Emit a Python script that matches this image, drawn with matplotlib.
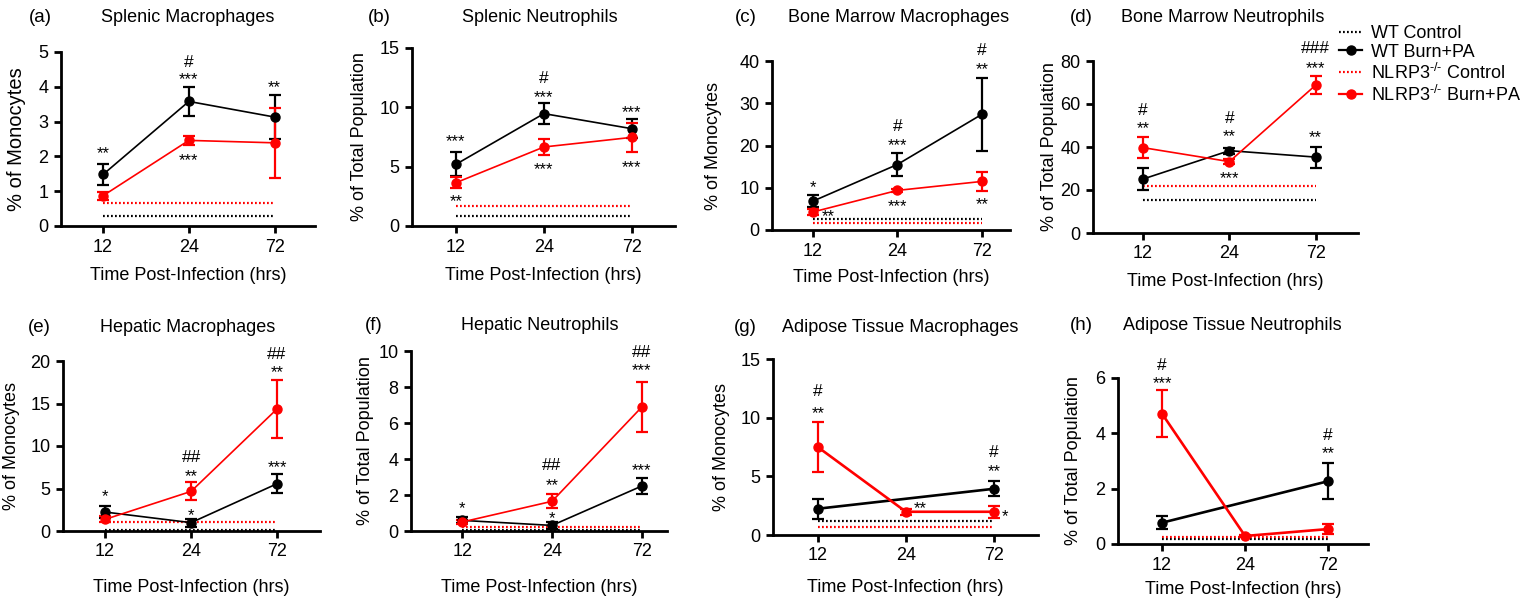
import numpy as np
import matplotlib
matplotlib.use('Agg')
import matplotlib.pyplot as plt
from matplotlib.lines import Line2D

plt.rcParams['font.family'] = ['Liberation Sans', 'DejaVu Sans']
plt.rcParams['mathtext.fontset'] = 'custom'
plt.rcParams['mathtext.rm'] = 'Liberation Sans'
plt.rcParams['mathtext.it'] = 'Liberation Sans:italic'
plt.rcParams['mathtext.bf'] = 'Liberation Sans:bold'

FIG_W, FIG_H = 1524, 601

time_labels = ['12', '24', '72']

panel_letters = ['(a)', '(b)', '(c)', '(d)', '(e)', '(f)', '(g)', '(h)']
titles = ['Splenic Macrophages', 'Splenic Neutrophils', 'Bone Marrow Macrophages',
          'Bone Marrow Neutrophils', 'Hepatic Macrophages', 'Hepatic Neutrophils',
          'Adipose Tissue Macrophages', 'Adipose Tissue Neutrophils']
ylabels = ['% of Monocytes', '% of Total Population', '% of Monocytes',
           '% of Total Population', '% of Monocytes', '% of Total Population',
           '% of Monocytes', '% of Total Population']
xlabel = 'Time Post-Infection (hrs)'

series_names = ['WT Control', 'WT Burn+PA',
                r'NLRP3$^{\text{-/-}}$ Control', r'NLRP3$^{\text{-/-}}$ Burn+PA']

# ---- values (mean, SEM) ----
a_wt_mean = [1.48, 3.58, 3.13]; a_wt_sem = [0.31, 0.42, 0.63]
a_ko_mean = [0.87, 2.46, 2.39]; a_ko_sem = [0.11, 0.13, 1.00]
a_wt_ctrl = 0.30; a_ko_ctrl = 0.66

b_wt_mean = [5.20, 9.47, 8.20]; b_wt_sem = [1.00, 0.87, 0.78]
b_ko_mean = [3.65, 6.66, 7.47]; b_ko_sem = [0.45, 0.64, 1.22]
b_wt_ctrl = 0.81; b_ko_ctrl = 1.69

c_wt_mean = [6.8, 15.5, 27.4]; c_wt_sem = [1.4, 2.7, 8.6]
c_ko_mean = [4.25, 9.37, 11.5]; c_ko_sem = [0.7, 0.4, 2.2]
c_wt_ctrl = 2.6; c_ko_ctrl = 1.57

d_wt_mean = [25.1, 38.3, 35.3]; d_wt_sem = [5.0, 1.4, 4.9]
d_ko_mean = [39.7, 33.2, 68.8]; d_ko_sem = [4.8, 1.1, 4.2]
d_wt_ctrl = 15.2; d_ko_ctrl = 22.0

e_wt_mean = [2.23, 0.98, 5.56]; e_wt_sem = [0.72, 0.47, 1.10]
e_ko_mean = [1.37, 4.66, 14.36]; e_ko_sem = [0.34, 1.07, 3.37]
e_wt_ctrl = 0.12; e_ko_ctrl = 1.02

f_wt_mean = [0.59, 0.31, 2.50]; f_wt_sem = [0.17, 0.18, 0.42]
f_ko_mean = [0.50, 1.65, 6.89]; f_ko_sem = [0.10, 0.39, 1.40]
f_wt_ctrl = 0.07; f_ko_ctrl = 0.22

g_wt_mean = [2.24, np.nan, 3.94]; g_wt_sem = [0.85, np.nan, 0.64]
g_ko_mean = [7.49, 1.98, 1.98]; g_ko_sem = [2.15, 0.24, 0.52]
g_wt_ctrl = 1.16; g_ko_ctrl = 0.65

h_wt_mean = [0.77, np.nan, 2.27]; h_wt_sem = [0.23, np.nan, 0.65]
h_ko_mean = [4.71, 0.29, 0.54]; h_ko_sem = [0.86, 0.03, 0.17]
h_wt_ctrl = 0.17; h_ko_ctrl = 0.24

y_maxes = [5, 15, 40, 80, 20, 10, 15, 6]
y_steps = [1, 5, 10, 20, 5, 2, 5, 2]

# significance marks: (time index, y, text)
a_marks = [(0, 2.21, '**'), (1, 4.75, '#'), (1, 4.35, '***'), (2, 4.11, '**'), (1, 2.02, '***')]
b_marks = [(0, 7.56, '***'), (0, 2.50, '**'), (1, 12.6, '#'), (1, 11.2, '***'), (1, 5.17, '***'),
           (2, 9.97, '***'), (2, 5.31, '***')]
c_marks = [(0, 11.3, '*'), (0.18, 4.25, '**'), (1, 24.8, '#'), (1, 21.1, '***'), (1, 6.7, '***'),
           (2, 42.8, '#'), (2, 39.2, '**'), (2, 7.1, '**')]
d_marks = [(0, 58.0, '#'), (0, 51.0, '**'), (1, 54.1, '#'), (1, 47.1, '**'), (1, 27.8, '***'),
           (2, 86.7, '###'), (2, 78.6, '***'), (2, 46.7, '**')]
e_marks = [(0, 4.6, '*'), (1, 8.85, '##'), (1, 6.97, '**'), (1, 2.39, '*'),
           (2, 21.0, '##'), (2, 19.2, '**'), (2, 8.06, '***')]
f_marks = [(0, 1.52, '*'), (1, 3.74, '##'), (1, 2.81, '**'), (1, 0.96, '*'),
           (2, 10.04, '##'), (2, 9.2, '***'), (2, 3.65, '***')]
g_marks = [(0, 12.36, '#'), (0, 10.75, '**'), (1.16, 2.67, '**'),
           (2, 7.2, '#'), (2, 5.84, '**'), (2.12, 1.98, '*')]
h_marks = [(0, 6.51, '#'), (0, 5.97, '***'), (2, 3.99, '#'), (2, 3.45, '**')]

panels = [
    (a_wt_mean, a_wt_sem, a_ko_mean, a_ko_sem, a_wt_ctrl, a_ko_ctrl, a_marks),
    (b_wt_mean, b_wt_sem, b_ko_mean, b_ko_sem, b_wt_ctrl, b_ko_ctrl, b_marks),
    (c_wt_mean, c_wt_sem, c_ko_mean, c_ko_sem, c_wt_ctrl, c_ko_ctrl, c_marks),
    (d_wt_mean, d_wt_sem, d_ko_mean, d_ko_sem, d_wt_ctrl, d_ko_ctrl, d_marks),
    (e_wt_mean, e_wt_sem, e_ko_mean, e_ko_sem, e_wt_ctrl, e_ko_ctrl, e_marks),
    (f_wt_mean, f_wt_sem, f_ko_mean, f_ko_sem, f_wt_ctrl, f_ko_ctrl, f_marks),
    (g_wt_mean, g_wt_sem, g_ko_mean, g_ko_sem, g_wt_ctrl, g_ko_ctrl, g_marks),
    (h_wt_mean, h_wt_sem, h_ko_mean, h_ko_sem, h_wt_ctrl, h_ko_ctrl, h_marks),
]

# ---- layout (pixels): left, right, top, bottom of axes ----
rects = [(61, 315, 52, 226), (412, 675, 48, 226), (772, 1010, 61, 230), (1093, 1358, 61, 233),
         (63, 320, 361, 531), (411, 667, 351, 531), (773, 1038, 359, 535), (1118, 1368, 378, 544)]
xlims = [(-0.49, 2.47), (-0.5, 2.49), (-0.48, 2.33), (-0.58, 2.49),
         (-0.49, 2.5), (-0.57, 2.28), (-0.51, 2.5), (-0.53, 2.48)]
title_pos = [(188, 17), (540, 17), (899, 17), (1223, 17),
             (188, 327), (540, 325), (900, 327), (1232, 326)]
letter_pos = [(40, 17), (379, 17), (746, 17), (1081, 17),
              (39, 327), (374, 325), (745, 327), (1081, 326)]
xlabel_y = [275, 276, 277, 282, 587, 587, 587, 590]
ylabel_x = [17, 360, 713, 1050, 12, 365, 722, 1073]
ylabel_fs = [14.5, 13, 13, 13, 13, 13, 13, 13]
thick = [False] * 6 + [True] * 2

RED = '#ff0000'
BLACK = '#000000'

fig = plt.figure(figsize=(FIG_W / 100, FIG_H / 100), dpi=100)


def fx(px):
    return px / FIG_W


def fy(py):
    return 1 - py / FIG_H


for i, (wm, ws, km, ks, wc, kc, marks) in enumerate(panels):
    l, r, t, b = rects[i]
    ax = fig.add_axes([fx(l), fy(b), (r - l) / FIG_W, (b - t) / FIG_H])
    x = np.arange(len(time_labels))
    lw = 1.9 if thick[i] else 1.2
    # controls
    ax.plot([x[0], x[-1]], [wc, wc], color=BLACK, lw=1.6, ls=(0, (0.8, 1.0)))
    ax.plot([x[0], x[-1]], [kc, kc], color=RED, lw=1.6, ls=(0, (0.8, 1.0)))
    for mean, sem, col in ((wm, ws, BLACK), (km, ks, RED)):
        mean = np.asarray(mean, float); sem = np.asarray(sem, float)
        ok = ~np.isnan(mean)
        ax.errorbar(x[ok], mean[ok], yerr=sem[ok], color=col, lw=lw, marker='o', ms=6.5,
                    capsize=4, capthick=1.6, elinewidth=1.6, zorder=3)
    ax.set_xlim(*xlims[i])
    ax.set_ylim(0, y_maxes[i])
    ax.set_yticks(np.arange(0, y_maxes[i] + 1e-9, y_steps[i]))
    ax.set_xticks(x)
    ax.set_xticklabels(time_labels)
    for s in ('top', 'right'):
        ax.spines[s].set_visible(False)
    for s in ('left', 'bottom'):
        ax.spines[s].set_linewidth(2.0)
    ax.tick_params(width=2.0, length=5, labelsize=13, pad=4)
    ax.set_xlabel(xlabel, fontsize=13, va='center')
    ax.xaxis.set_label_coords(fx((l + r) / 2), fy(xlabel_y[i]), transform=fig.transFigure)
    ax.set_ylabel(ylabels[i], fontsize=ylabel_fs[i], va='center')
    ax.yaxis.set_label_coords(fx(ylabel_x[i]), fy((t + b) / 2), transform=fig.transFigure)
    fig.text(fx(title_pos[i][0]), fy(title_pos[i][1]), titles[i], fontsize=13,
             ha='center', va='center')
    fig.text(fx(letter_pos[i][0]), fy(letter_pos[i][1]), panel_letters[i], fontsize=13.5,
             ha='center', va='center')
    for xi, yv, txt in marks:
        if txt.startswith('#'):
            fs, off = 12.5, 0.36
        else:
            fs, off = 12, 0.57
        ax.annotate(txt, xy=(xi, yv), xytext=(0, -off * fs), textcoords='offset points',
                    ha='center', va='baseline', fontsize=fs, annotation_clip=False)

handles = [
    Line2D([], [], color=BLACK, lw=1.6, ls=(0, (0.8, 1.0))),
    Line2D([], [], color=BLACK, lw=1.6, marker='o', ms=6.5),
    Line2D([], [], color=RED, lw=1.6, ls=(0, (0.8, 1.0))),
    Line2D([], [], color=RED, lw=1.6, marker='o', ms=6.5),
]
fig.legend(handles, series_names, loc='upper left', bbox_to_anchor=(fx(1339), fy(25)),
           frameon=False, fontsize=13, handlelength=1.3, handletextpad=0.45,
           labelspacing=0.1, borderpad=0, borderaxespad=0, numpoints=1)

fig.savefig('out.png', dpi=100)
